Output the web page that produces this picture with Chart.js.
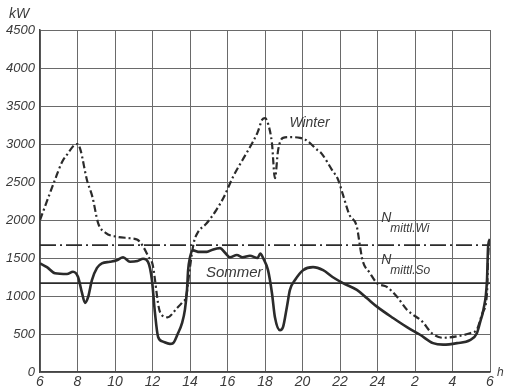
<!DOCTYPE html>
<html>
<head>
<meta charset="utf-8">
<script src="https://cdn.jsdelivr.net/npm/chart.js@4"></script>
<style>
  html, body { margin: 0; padding: 0; background: #fff; }
  #wrap { width: 506px; height: 392px; }
</style>
</head>
<body>
<div id="wrap"><canvas id="chart"></canvas></div>
<script>
// Tagesbelastung: Stunden (6 Uhr bis 6 Uhr folgender Tag) und Leistung in kW
const winterHours = [6.0, 6.8, 7.17, 7.5, 7.8, 8.0, 8.15, 8.5, 8.8, 9.1, 9.5, 10.1, 10.8, 11.2, 11.5, 11.8, 12.0,
  12.4, 12.8, 13.3, 13.6, 13.8, 14.0, 14.2, 14.4, 14.9, 15.4, 15.8, 16.3, 16.8, 17.2, 17.6, 17.85, 18.0, 18.16,
  18.37, 18.53, 18.7, 18.96, 19.33, 19.87, 20.2, 20.8, 21.0, 21.57, 21.9, 22.16, 22.5, 22.9, 23.07, 23.2, 23.6,
  23.97, 24.5, 25.04, 25.57, 26.4, 26.9, 27.5, 28.24, 28.93, 29.3, 29.6, 29.84, 29.9, 29.95, 30.0];
const winterKW = [2000, 2530, 2760, 2880, 2980, 3000, 2930, 2530, 2300, 1960, 1830, 1780, 1760, 1740, 1650, 1510, 1420,
  790, 720, 840, 920, 1000, 1380, 1700, 1830, 1960, 2130, 2300, 2570, 2790, 2960, 3150, 3320, 3340, 3270,
  3010, 2550, 2920, 3080, 3090, 3080, 3050, 2920, 2880, 2660, 2530, 2330, 2070, 1910, 1650, 1470, 1300,
  1170, 1120, 990, 820, 660, 510, 450, 470, 510, 560, 780, 1040, 1510, 1700, 1740];

const summerHours = [6.0, 6.37, 6.8, 7.44, 7.76, 8.03, 8.24, 8.4, 8.57, 8.77, 9.04, 9.3, 9.73, 10.1, 10.43, 10.8, 11.2,
  11.5, 11.76, 11.97, 12.13, 12.3, 12.56, 12.93, 13.1, 13.36, 13.57, 13.73, 13.84, 13.9, 14.0, 14.16, 14.5, 14.9,
  15.2, 15.6, 15.87, 16.13, 16.5, 16.8, 17.2, 17.6, 17.75, 17.9, 18.16, 18.37, 18.53, 18.8, 18.96, 19.17, 19.33,
  19.6, 20.03, 20.56, 21.1, 21.6, 22.16, 22.9, 23.44, 23.97, 24.83, 25.57, 26.27, 26.96, 27.5, 28.24, 28.93, 29.3,
  29.5, 29.65, 29.84, 29.9, 30.0];
const summerKW = [1430, 1380, 1300, 1290, 1320, 1250, 1040, 910, 990, 1210, 1370, 1430, 1450, 1470, 1510, 1450, 1460,
  1490, 1450, 1210, 780, 460, 400, 370, 380, 510, 640, 820, 1080, 1340, 1510, 1600, 1580, 1580,
  1610, 1630, 1570, 1510, 1540, 1510, 1530, 1500, 1560, 1500, 1340, 1040, 720, 550, 590, 860, 1080,
  1210, 1340, 1380, 1340, 1250, 1170, 1080, 970, 860, 710, 590, 490, 380, 360, 380, 420, 510,
  680, 820, 1210, 1650, 1750];

// mittlere Leistung
const meanWinter = 1670;
const meanSummer = 1170;

const xTicks = [6, 8, 10, 12, 14, 16, 18, 20, 22, 24, 26, 28, 30];
const xTickLabels = ["6", "8", "10", "12", "14", "16", "18", "20", "22", "24", "2", "4", "6"];
const yTicks = [0, 500, 1000, 1500, 2000, 2500, 3000, 3500, 4000, 4500];

const ink = "#2b2b2b";
const gridInk = "#6a6a6a";

const toPoints = (xs, ys) => xs.map((x, i) => ({ x: x, y: ys[i] }));

const labelsPlugin = {
  id: "labels",
  afterDraw(chart) {
    const ctx = chart.ctx;
    const xs = chart.scales.x;
    const ys = chart.scales.y;
    ctx.save();
    ctx.fillStyle = "#3a3a3a";
    ctx.textBaseline = "middle";
    ctx.textAlign = "left";

    ctx.font = "italic 14px 'Liberation Sans', Arial, sans-serif";
    ctx.fillText("kW", 9, 14);

    ctx.fillText("Winter", xs.getPixelForValue(19.3), ys.getPixelForValue(3270));
    ctx.font = "italic 15px 'Liberation Sans', Arial, sans-serif";
    ctx.fillText("Sommer", xs.getPixelForValue(14.85), ys.getPixelForValue(1300));

    const nx = xs.getPixelForValue(24.2);
    ctx.font = "italic 14px 'Liberation Sans', Arial, sans-serif";
    ctx.fillText("N", nx, ys.getPixelForValue(meanWinter) - 27);
    ctx.fillText("N", nx, ys.getPixelForValue(meanSummer) - 23);
    ctx.font = "italic 12px 'Liberation Sans', Arial, sans-serif";
    ctx.fillText("mittl.Wi", nx + 9, ys.getPixelForValue(meanWinter) - 16);
    ctx.fillText("mittl.So", nx + 9, ys.getPixelForValue(meanSummer) - 12);

    ctx.fillText("h", xs.getPixelForValue(30) + 7, ys.getPixelForValue(0) + 1);
    ctx.restore();
  }
};

new Chart(document.getElementById("chart"), {
  type: "line",
  data: {
    datasets: [
      {
        label: "Winter",
        data: toPoints(winterHours, winterKW),
        borderColor: ink,
        borderWidth: 2.2,
        borderDash: [7, 3, 2, 3],
        pointRadius: 0,
        cubicInterpolationMode: "monotone",
      },
      {
        label: "Sommer",
        data: toPoints(summerHours, summerKW),
        borderColor: ink,
        borderWidth: 2.6,
        pointRadius: 0,
        cubicInterpolationMode: "monotone",
      },
      {
        label: "N mittl. Wi",
        data: [{ x: 6, y: meanWinter }, { x: 30, y: meanWinter }],
        borderColor: ink,
        borderWidth: 1.6,
        borderDash: [16, 4, 2, 4],
        pointRadius: 0,
      },
      {
        label: "N mittl. So",
        data: [{ x: 6, y: meanSummer }, { x: 30, y: meanSummer }],
        borderColor: ink,
        borderWidth: 1.8,
        pointRadius: 0,
      },
    ],
  },
  options: {
    responsive: true,
    maintainAspectRatio: false,
    animation: false,
    layout: { padding: { top: 30, right: 16, bottom: 0, left: 0 } },
    plugins: { legend: { display: false }, tooltip: { enabled: false } },
    scales: {
      x: {
        type: "linear",
        min: 6,
        max: 30,
        afterFit: (s) => { s.height = 20; },
        afterBuildTicks: (s) => { s.ticks = xTicks.map((v) => ({ value: v })); },
        ticks: {
          color: "#3a3a3a",
          font: { family: "'Liberation Sans', Arial, sans-serif", size: 14, style: "italic" },
          padding: 2,
          maxRotation: 0,
          autoSkip: false,
          callback: (v) => xTickLabels[xTicks.indexOf(v)],
        },
        grid: { color: gridInk, lineWidth: 1, drawTicks: false },
        border: { color: "#444", width: 1.5 },
      },
      y: {
        type: "linear",
        min: 0,
        max: 4500,
        afterFit: (s) => { s.width = 40; },
        afterBuildTicks: (s) => { s.ticks = yTicks.map((v) => ({ value: v })); },
        ticks: {
          color: "#3a3a3a",
          font: { family: "'Liberation Sans', Arial, sans-serif", size: 13, style: "italic" },
          padding: 5,
          autoSkip: false,
          callback: (v) => String(v),
        },
        grid: { color: gridInk, lineWidth: 1, drawTicks: false },
        border: { color: "#444", width: 1.5 },
      },
    },
  },
  plugins: [labelsPlugin],
});
</script>
</body>
</html>
